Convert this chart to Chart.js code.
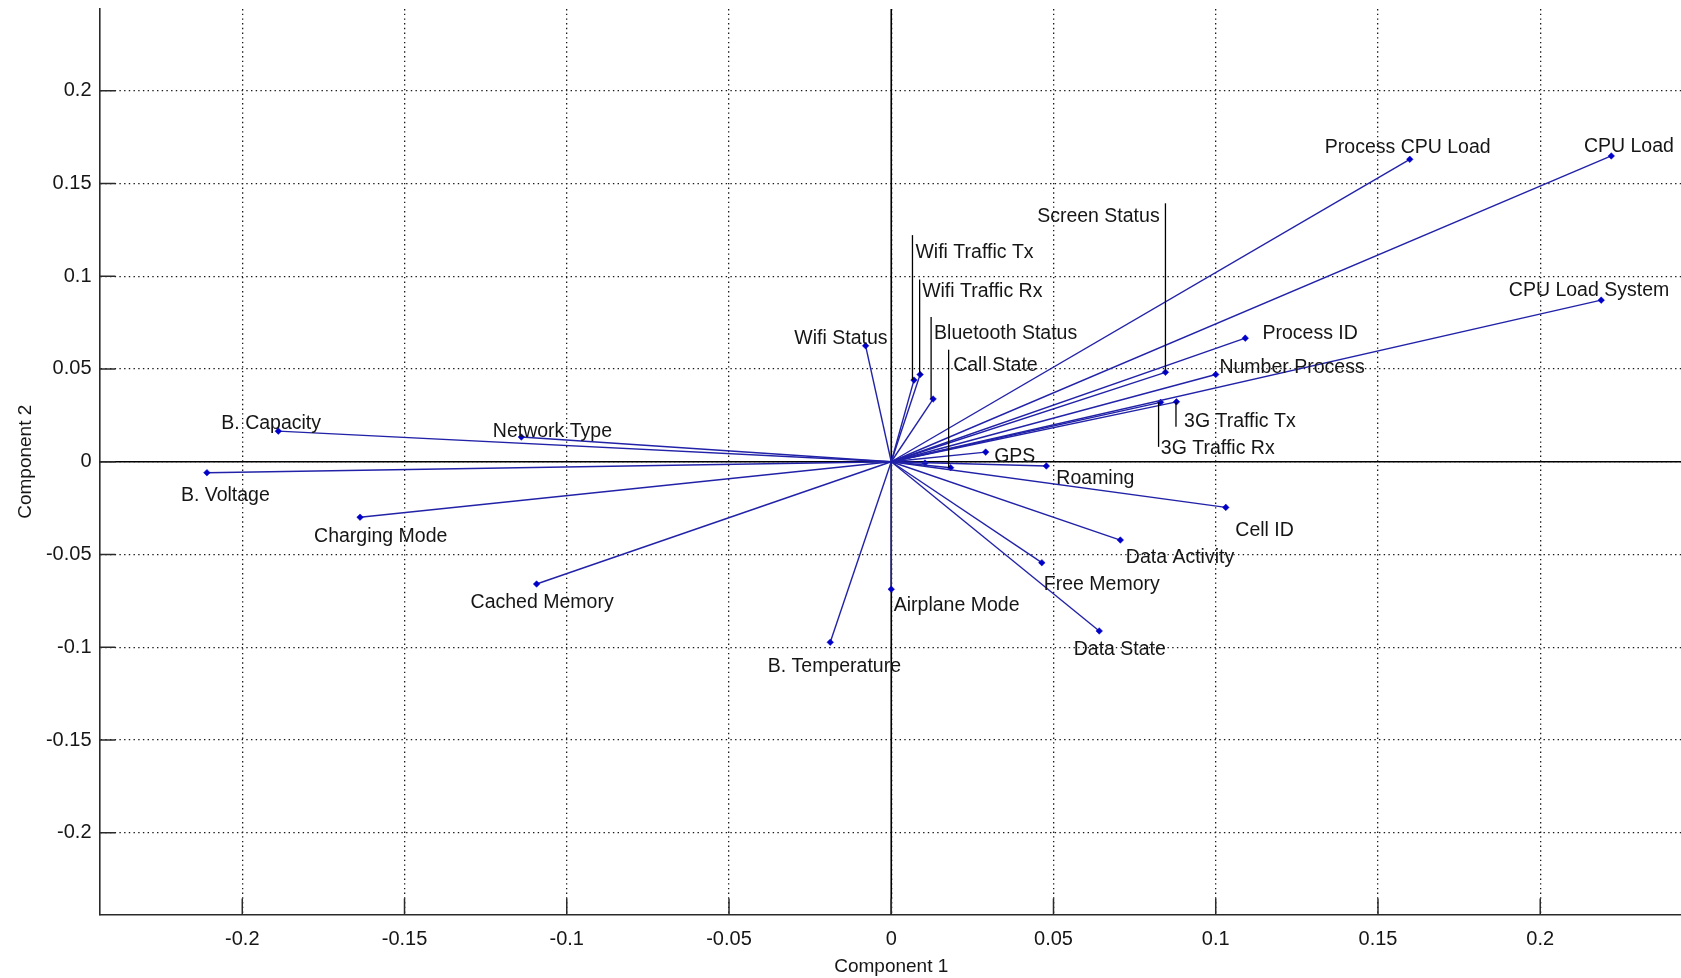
<!DOCTYPE html>
<html>
<head>
<meta charset="utf-8">
<title>Biplot: Component 1 vs Component 2</title>
<script src="https://cdn.jsdelivr.net/npm/chart.js@4.4.1/dist/chart.umd.min.js"></script>
<style>
  html, body { margin: 0; padding: 0; background: #fff; overflow: hidden; }
  #wrap { position: relative; width: 1700px; height: 978px; }
</style>
</head>
<body>
<div id="wrap"><canvas id="chart"></canvas></div>
<script>
// Variable loadings on the first two principal components
const variables = [
  'B. Capacity', 'Network Type', 'B. Voltage', 'Charging Mode', 'Cached Memory',
  'B. Temperature', 'Airplane Mode', 'Data State', 'Free Memory', 'Data Activity',
  'Cell ID', 'Roaming', 'GPS', 'Call State', 'Bluetooth Status',
  'Wifi Traffic Rx', 'Wifi Traffic Tx', 'Wifi Status', 'Screen Status', 'Process CPU Load',
  'CPU Load', 'CPU Load System', 'Process ID', 'Number Process', '3G Traffic Tx',
  '3G Traffic Rx', ''
];
const component1 = [
  -0.1889, -0.1140, -0.2109, -0.1637, -0.1093,
  -0.0188,  0.0000,  0.0641,  0.0464,  0.0706,
   0.1031,  0.0478,  0.0291,  0.0183,  0.0129,
   0.0089,  0.0070, -0.0079,  0.0845,  0.1598,
   0.2219,  0.2188,  0.1091,  0.1000,  0.0879,
   0.0830,  0.0104
];
const component2 = [
   0.0165,  0.0133, -0.0059, -0.0299, -0.0659,
  -0.0973, -0.0687, -0.0912, -0.0544, -0.0422,
  -0.0246, -0.0023,  0.0052, -0.0032,  0.0338,
   0.0470,  0.0440,  0.0625,  0.0482,  0.1630,
   0.1648,  0.0871,  0.0666,  0.0470,  0.0323,
   0.0320, -0.0007
];

// Axis ticks
const xTickValues = [-0.2, -0.15, -0.1, -0.05, 0, 0.05, 0.1, 0.15, 0.2];
const xTickLabels = ['-0.2', '-0.15', '-0.1', '-0.05', '0', '0.05', '0.1', '0.15', '0.2'];
const yTickValues = [-0.2, -0.15, -0.1, -0.05, 0, 0.05, 0.1, 0.15, 0.2];
const yTickLabels = ['-0.2', '-0.15', '-0.1', '-0.05', '0', '0.05', '0.1', '0.15', '0.2'];
const axisLimit = 0.2440;

// Label placement in pixels relative to each arrow tip: [dx, dy] of the text's
// left/middle point, plus an optional vertical leader line [lineDx, lineDy].
const labelPlacement = [
  [-57, -8], [-28.5, -5], [-26, 23], [-46, 19.5], [-66, 18.5],
  [-62.5, 24.5], [2.5, 16.5], [-25.5, 19], [2, 21.5], [5.5, 17.5],
  [9.5, 23.5], [10, 12.5], [8.5, 5], [2.5, -102], [1, -65],
  [2, -82.5], [1.5, -127.7], [-71.3, -7.4], [-128.3, -155.2], [-85, -11.3],
  [-27.4, -9.7], [-92.4, -9.3], [17.2, -4.7], [3.7, -7.3], [7.6, 20],
  [0.3, 46], [0, 0]
];
const leaderLines = {
  'Call State': [-2, -118],
  'Bluetooth Status': [-2, -82],
  'Wifi Traffic Rx': [-0.5, -95],
  'Wifi Traffic Tx': [-1.5, -145],
  'Screen Status': [0, -169],
  '3G Traffic Tx': [-0.5, 25],
  '3G Traffic Rx': [-2, 44.5]
};

const FONT_FAMILY = '"Liberation Sans", Arial, Helvetica, sans-serif';
const TEXT_COLOR = '#161616';
const VECTOR_COLOR = '#2222a8';
const MARKER_COLOR = '#0000c8';

Chart.defaults.font.family = FONT_FAMILY;
Chart.defaults.font.size = 19;
Chart.defaults.color = TEXT_COLOR;

const datasets = variables.map((name, i) => ({
  label: name || 'unlabeled',
  data: [{ x: 0, y: 0 }, { x: component1[i], y: component2[i] }],
  showLine: true,
  borderColor: VECTOR_COLOR,
  borderWidth: 1.4,
  pointRadius: [0, 3.3],
  pointStyle: 'rectRot',
  pointBackgroundColor: MARKER_COLOR,
  pointBorderColor: MARKER_COLOR,
  pointBorderWidth: 0.5
}));

// Zero axes and inward tick marks
const axesPlugin = {
  id: 'zeroAxes',
  beforeDatasetsDraw(chart) {
    const { ctx, chartArea: a, scales: { x, y } } = chart;
    const x0 = x.getPixelForValue(0);
    const y0 = y.getPixelForValue(0);
    ctx.save();
    ctx.strokeStyle = '#000';
    ctx.lineWidth = 1.6;
    ctx.beginPath();
    ctx.moveTo(a.left, y0); ctx.lineTo(a.right, y0);
    ctx.moveTo(x0, a.top); ctx.lineTo(x0, a.bottom);
    ctx.stroke();
    ctx.strokeStyle = '#2a2a2a';
    ctx.lineWidth = 1.5;
    ctx.beginPath();
    xTickValues.forEach(v => {
      const px = x.getPixelForValue(v);
      ctx.moveTo(px, a.bottom); ctx.lineTo(px, a.bottom - 16);
    });
    yTickValues.forEach(v => {
      const py = y.getPixelForValue(v);
      ctx.moveTo(a.left, py); ctx.lineTo(a.left + 16, py);
    });
    ctx.stroke();
    ctx.restore();
  }
};

// Variable names next to the arrow tips, with leader lines where needed
const labelPlugin = {
  id: 'vectorLabels',
  afterDatasetsDraw(chart) {
    const { ctx, scales: { x, y } } = chart;
    ctx.save();
    ctx.font = '19.5px ' + FONT_FAMILY;
    ctx.fillStyle = TEXT_COLOR;
    ctx.textAlign = 'left';
    ctx.textBaseline = 'middle';
    variables.forEach((name, i) => {
      if (!name) return;
      const px = x.getPixelForValue(component1[i]);
      const py = y.getPixelForValue(component2[i]);
      const lead = leaderLines[name];
      if (lead) {
        ctx.strokeStyle = '#000';
        ctx.lineWidth = 1.3;
        ctx.beginPath();
        ctx.moveTo(px + lead[0], py);
        ctx.lineTo(px + lead[0], py + lead[1]);
        ctx.stroke();
      }
      const [dx, dy] = labelPlacement[i];
      ctx.fillText(name, px + dx, py + dy);
    });
    ctx.restore();
  }
};

function noEdgePadding(scale) {
  scale.paddingTop = 0;
  scale.paddingBottom = 0;
  scale.paddingLeft = 0;
  scale.paddingRight = 0;
}

new Chart(document.getElementById('chart'), {
  type: 'scatter',
  data: { datasets },
  options: {
    responsive: true,
    maintainAspectRatio: false,
    animation: false,
    layout: { padding: { top: 9, right: 17, bottom: 0, left: 0 } },
    plugins: { legend: { display: false }, tooltip: { enabled: false } },
    elements: { line: { tension: 0 } },
    scales: {
      x: {
        type: 'linear',
        min: -axisLimit,
        max: axisLimit,
        afterBuildTicks(scale) { scale.ticks = xTickValues.map(v => ({ value: v })); },
        afterFit(scale) { scale.height = 63.5; noEdgePadding(scale); },
        ticks: {
          autoSkip: false,
          maxRotation: 0,
          padding: 13,
          color: TEXT_COLOR,
          font: { size: 20 },
          callback(value) {
            const i = xTickValues.findIndex(v => Math.abs(v - value) < 1e-9);
            return i >= 0 ? xTickLabels[i] : '';
          }
        },
        grid: { color: '#1a1a1a', lineWidth: 1.3, drawTicks: false },
        border: { display: true, color: '#2a2a2a', width: 1.6, dash: [1.4, 3.3] },
        title: { display: true, text: 'Component 1', color: TEXT_COLOR, font: { size: 19 }, padding: { top: 3.6, bottom: 0 } }
      },
      y: {
        type: 'linear',
        min: -axisLimit,
        max: axisLimit,
        afterBuildTicks(scale) { scale.ticks = yTickValues.map(v => ({ value: v })); },
        afterFit(scale) { scale.width = 99.5; noEdgePadding(scale); },
        ticks: {
          autoSkip: false,
          padding: 8,
          color: TEXT_COLOR,
          font: { size: 20 },
          callback(value) {
            const i = yTickValues.findIndex(v => Math.abs(v - value) < 1e-9);
            return i >= 0 ? yTickLabels[i] : '';
          }
        },
        grid: { color: '#1a1a1a', lineWidth: 1.3, drawTicks: false },
        border: { display: true, color: '#2a2a2a', width: 1.6, dash: [1.4, 3.3] },
        title: { display: true, text: 'Component 2', color: TEXT_COLOR, font: { size: 19 }, padding: { top: 14, bottom: 0 } }
      }
    }
  },
  plugins: [axesPlugin, labelPlugin]
});
</script>
</body>
</html>
